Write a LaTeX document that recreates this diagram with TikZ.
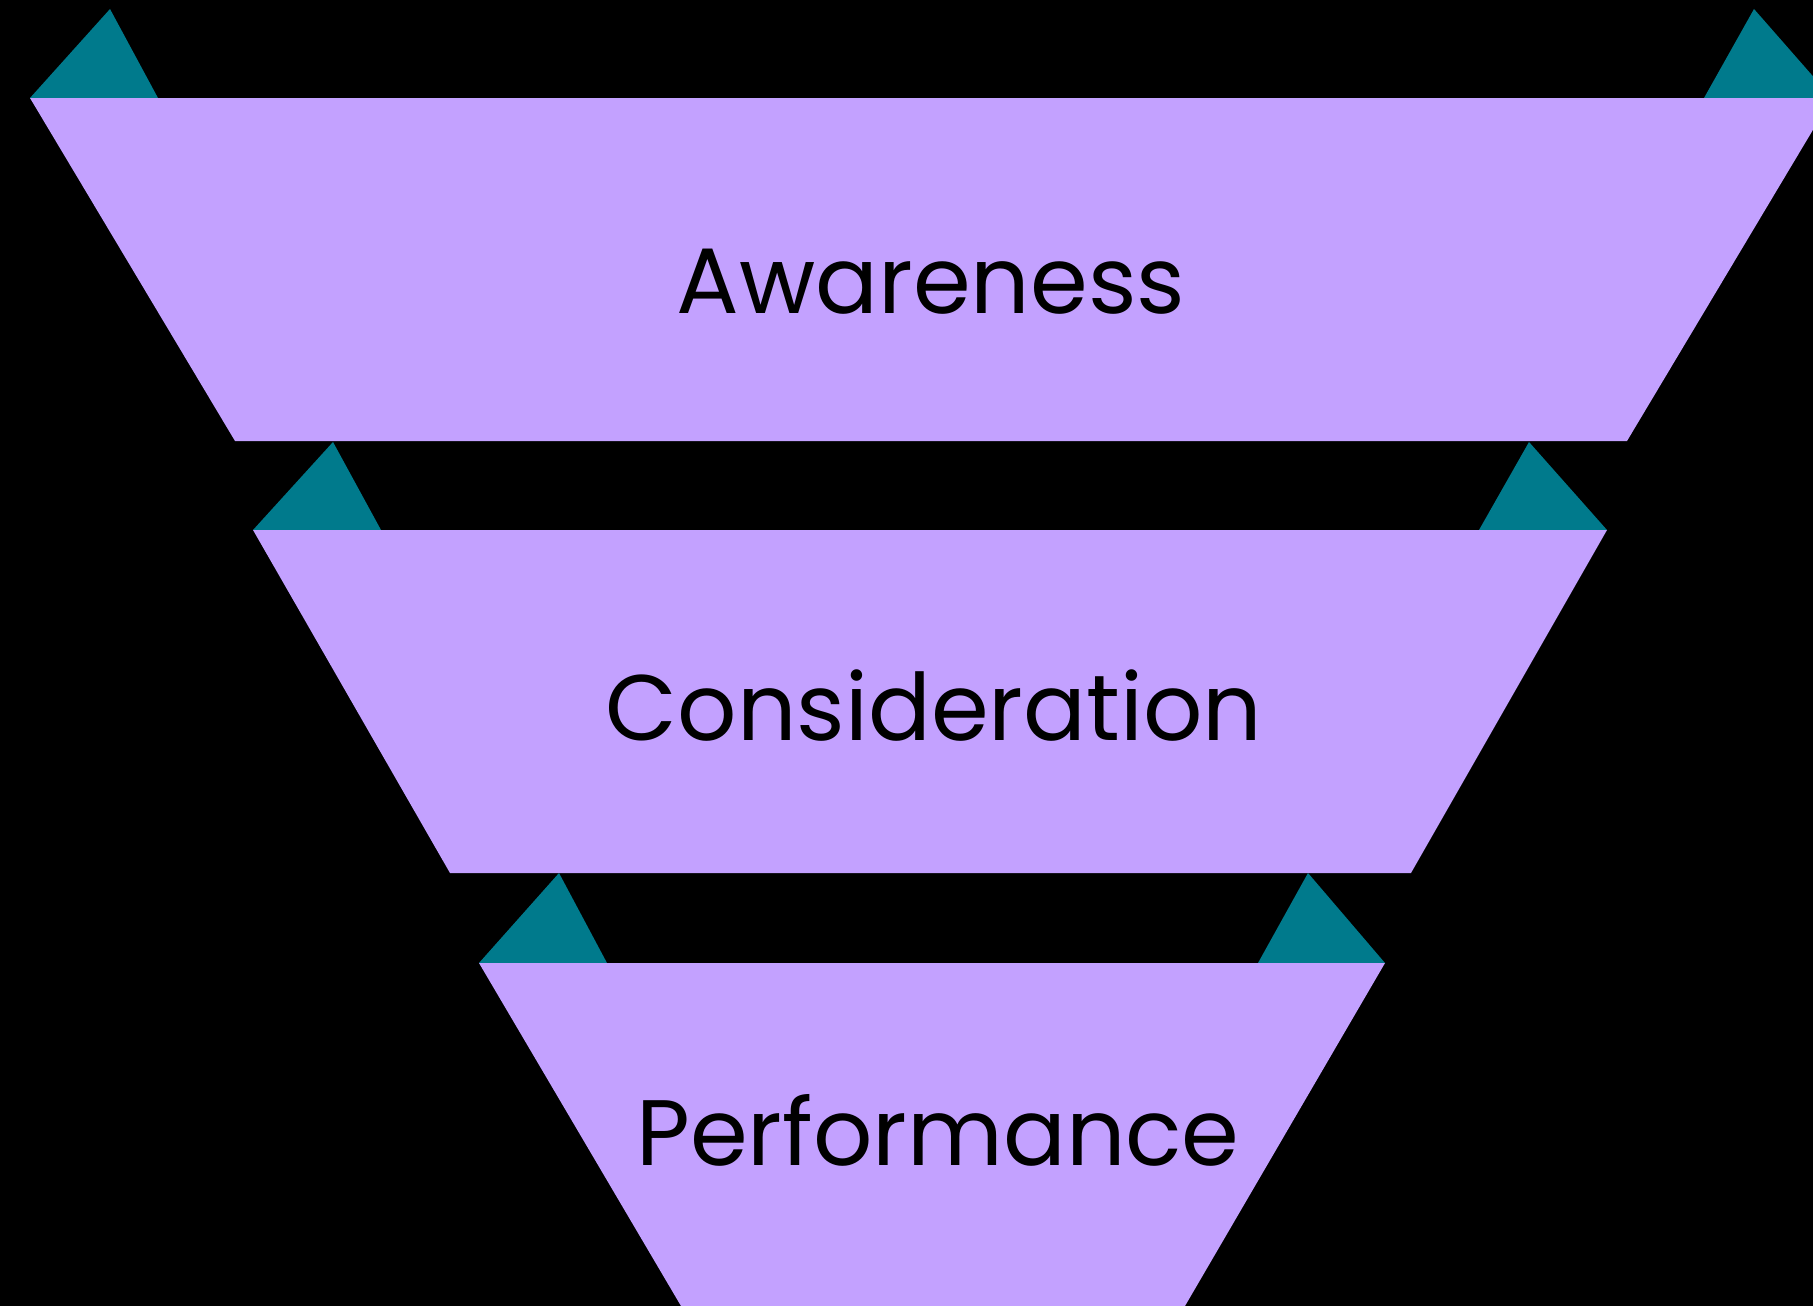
\documentclass[tikz,border=0pt]{standalone}
\usepackage{fontspec}
\setmainfont{Poppins}
\definecolor{funnel}{RGB}{195,161,255}
\definecolor{tealtri}{RGB}{0,122,140}
\tikzset{
  band/.style={fill=funnel},
  tri/.style={fill=tealtri},
  label/.style={font=\fontsize{93}{110}\selectfont, text=black, inner sep=0pt, anchor=base}
}
\begin{document}
\begin{tikzpicture}[x=1pt,y=-1pt]
\fill[black] (0,0) rectangle (1813,1306);
\useasboundingbox (0,0) rectangle (1813,1306);
\begin{scope}
\clip (0,0) rectangle (1813,1306);
% band 1
\fill[tri] (30,98) -- (110,9) -- (158,98) -- cycle;
\fill[tri] (1704,98) -- (1754,9) -- (1832,98) -- cycle;
\fill[band] (30,98) -- (1832,98) -- (1627,441) -- (235,441) -- cycle;
% band 2
\fill[tri] (253,530) -- (333,442) -- (381,530) -- cycle;
\fill[tri] (1479,530) -- (1529,442) -- (1607,530) -- cycle;
\fill[band] (253,530) -- (1607,530) -- (1411,873) -- (450,873) -- cycle;
% band 3
\fill[tri] (479,963) -- (559,873) -- (607,963) -- cycle;
\fill[tri] (1258,963) -- (1308,873) -- (1385,963) -- cycle;
\fill[band] (479,963) -- (1385,963) -- (1185,1306) -- (681,1306) -- cycle;
\end{scope}
\node[label] (aw) at (931,313) {Awareness};
\node[label] (co) at (934,740) {Consideration};
\node[label] (pe) at (938,1165) {Performance};
\end{tikzpicture}
\end{document}
